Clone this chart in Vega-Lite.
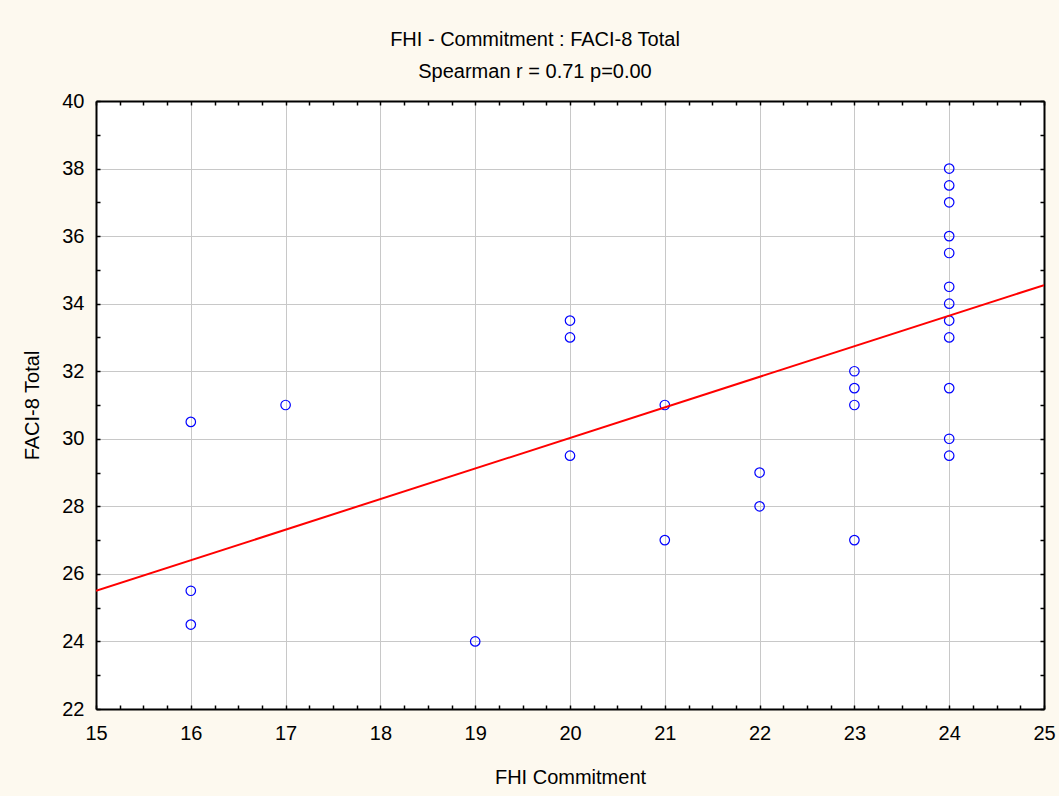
{
  "$schema": "https://vega.github.io/schema/vega-lite/v6.json",
  "autosize": "none",
  "width": 948,
  "height": 608,
  "padding": {"left": 96, "top": 101, "right": 15, "bottom": 87},
  "background": "#fdf9ef",
  "view": {"fill": "white", "stroke": null},
  "config": {"font": "Liberation Sans"},
  "title": {
    "text": "FHI - Commitment : FACI-8 Total",
    "subtitle": "Spearman r = 0.71 p=0.00",
    "fontSize": 20,
    "fontWeight": "normal",
    "font": "Liberation Sans",
    "color": "black",
    "subtitleFontSize": 20,
    "subtitleFont": "Liberation Sans",
    "subtitleColor": "black",
    "subtitlePadding": 12,
    "anchor": "middle",
    "offset": 9,
    "dx": -35
  },
  "datasets": {
    "pts": [
      {"x": 16, "y": 30.5}, {"x": 16, "y": 25.5}, {"x": 16, "y": 24.5},
      {"x": 17, "y": 31},
      {"x": 19, "y": 24},
      {"x": 20, "y": 33.5}, {"x": 20, "y": 33}, {"x": 20, "y": 29.5},
      {"x": 21, "y": 31}, {"x": 21, "y": 27},
      {"x": 22, "y": 29}, {"x": 22, "y": 28},
      {"x": 23, "y": 32}, {"x": 23, "y": 31.5}, {"x": 23, "y": 31}, {"x": 23, "y": 27},
      {"x": 24, "y": 38}, {"x": 24, "y": 37.5}, {"x": 24, "y": 37}, {"x": 24, "y": 36},
      {"x": 24, "y": 35.5}, {"x": 24, "y": 34.5}, {"x": 24, "y": 34}, {"x": 24, "y": 33.5},
      {"x": 24, "y": 33}, {"x": 24, "y": 31.5}, {"x": 24, "y": 30}, {"x": 24, "y": 29.5}
    ],
    "fit": [{"x": 15, "y": 25.5}, {"x": 25, "y": 34.55}]
  },
  "resolve": {"axis": {"x": "independent", "y": "independent"}},
  "layer": [
    {
      "data": {"name": "pts"},
      "mark": {"type": "point", "shape": "circle", "filled": false, "color": "#0000ff", "size": 90, "strokeWidth": 1.2, "opacity": 1},
      "encoding": {
        "x": {
          "field": "x", "type": "quantitative",
          "scale": {"domain": [15, 25], "nice": false, "zero": false},
          "axis": {
            "orient": "bottom", "values": [15, 16, 17, 18, 19, 20, 21, 22, 23, 24, 25],
            "ticks": false, "tickSize": 0, "grid": true, "gridColor": "#c8c8c8", "gridWidth": 1,
            "domain": true, "domainColor": "black", "domainWidth": 2,
            "labelFontSize": 20, "labelColor": "black", "labelPadding": 14, "labelFont": "Liberation Sans",
            "labelFlush": false, "labelOverlap": false,
            "title": "FHI Commitment", "titleFontSize": 20, "titleFontWeight": "normal", "titleColor": "black",
            "titleFont": "Liberation Sans", "titlePadding": 24
          }
        },
        "y": {
          "field": "y", "type": "quantitative",
          "scale": {"domain": [22, 40], "nice": false, "zero": false},
          "axis": {
            "orient": "left", "values": [22, 24, 26, 28, 30, 32, 34, 36, 38, 40],
            "ticks": false, "tickSize": 0, "grid": true, "gridColor": "#c8c8c8", "gridWidth": 1,
            "domain": true, "domainColor": "black", "domainWidth": 2,
            "labelFontSize": 20, "labelColor": "black", "labelPadding": 12, "labelFont": "Liberation Sans",
            "labelFlush": false, "labelOverlap": false,
            "title": "FACI-8 Total", "titleFontSize": 20, "titleFontWeight": "normal", "titleColor": "black",
            "titleFont": "Liberation Sans", "titlePadding": 19
          }
        }
      }
    },
    {
      "data": {"name": "fit"},
      "mark": {"type": "line", "color": "#ff0000", "strokeWidth": 2, "clip": true},
      "encoding": {
        "x": {
          "field": "x", "type": "quantitative",
          "axis": {
            "orient": "top",
            "values": [15, 15.25, 15.5, 15.75, 16, 16.25, 16.5, 16.75, 17, 17.25, 17.5, 17.75, 18, 18.25, 18.5, 18.75, 19, 19.25, 19.5, 19.75, 20, 20.25, 20.5, 20.75, 21, 21.25, 21.5, 21.75, 22, 22.25, 22.5, 22.75, 23, 23.25, 23.5, 23.75, 24, 24.25, 24.5, 24.75, 25],
            "labels": false, "grid": false, "ticks": true, "tickSize": -4, "tickColor": "black", "tickWidth": 1.5,
            "domain": true, "domainColor": "black", "domainWidth": 2, "title": null
          }
        },
        "y": {
          "field": "y", "type": "quantitative",
          "axis": {
            "orient": "right",
            "values": [22, 23, 24, 25, 26, 27, 28, 29, 30, 31, 32, 33, 34, 35, 36, 37, 38, 39, 40],
            "labels": false, "grid": false, "ticks": true, "tickSize": -4, "tickColor": "black", "tickWidth": 1.5,
            "domain": true, "domainColor": "black", "domainWidth": 2, "title": null
          }
        }
      }
    },
    {
      "data": {"name": "fit"},
      "mark": {"type": "point", "opacity": 0},
      "encoding": {
        "x": {
          "field": "x", "type": "quantitative",
          "axis": {
            "orient": "bottom",
            "values": [15, 15.25, 15.5, 15.75, 16, 16.25, 16.5, 16.75, 17, 17.25, 17.5, 17.75, 18, 18.25, 18.5, 18.75, 19, 19.25, 19.5, 19.75, 20, 20.25, 20.5, 20.75, 21, 21.25, 21.5, 21.75, 22, 22.25, 22.5, 22.75, 23, 23.25, 23.5, 23.75, 24, 24.25, 24.5, 24.75, 25],
            "labels": false, "grid": false, "ticks": true, "tickSize": -4, "tickColor": "black", "tickWidth": 1.5,
            "domain": false, "title": null
          }
        },
        "y": {
          "field": "y", "type": "quantitative",
          "axis": {
            "orient": "left",
            "values": [22, 23, 24, 25, 26, 27, 28, 29, 30, 31, 32, 33, 34, 35, 36, 37, 38, 39, 40],
            "labels": false, "grid": false, "ticks": true, "tickSize": -4, "tickColor": "black", "tickWidth": 1.5,
            "domain": false, "title": null
          }
        }
      }
    }
  ]
}
